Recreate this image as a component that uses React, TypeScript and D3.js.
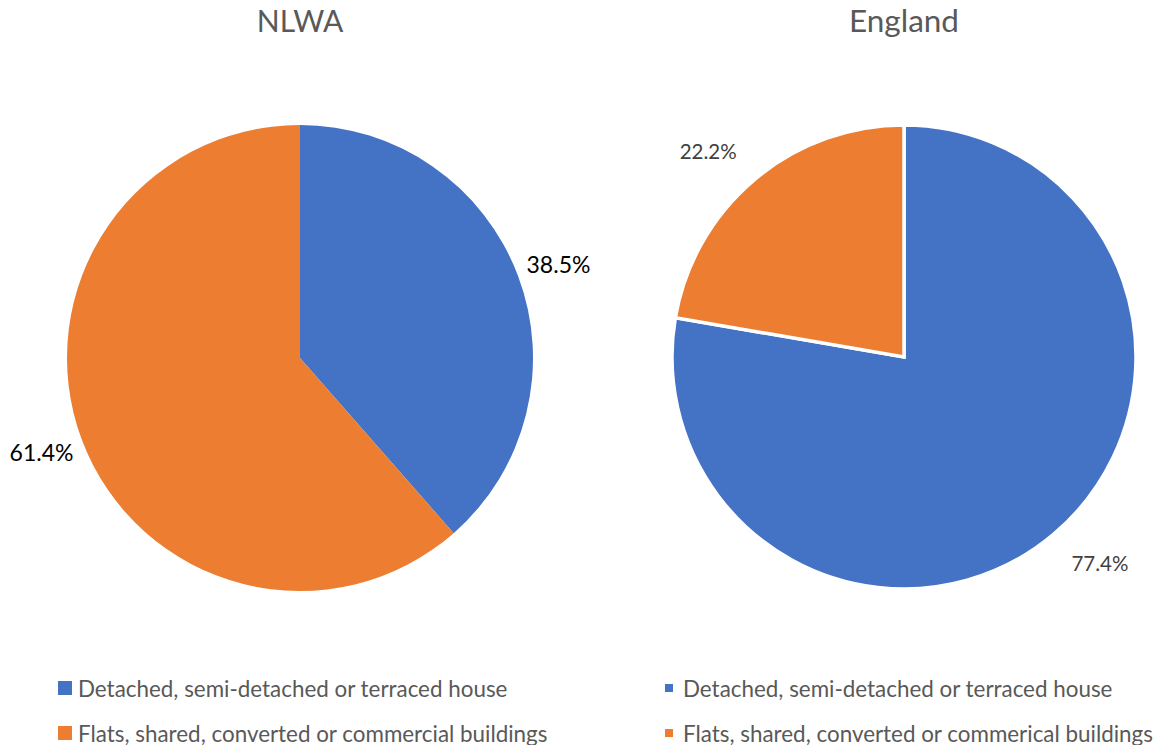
import React from "react";
import * as d3 from "d3";

const nlwaCategories = ["Detached, semi-detached or terraced house", "Flats, shared, converted or commercial buildings"];
const nlwaValues = [38.5, 61.4];
const nlwaLabels = ["38.5%", "61.4%"];

const englandCategories = ["Detached, semi-detached or terraced house", "Flats, shared, converted or commerical buildings"];
const englandValues = [77.4, 22.2];
const englandLabels = ["77.4%", "22.2%"];

const colors = ["#4472C4", "#ED7D31"];
const FONT = "Lato, 'Open Sans', sans-serif";

type PieProps = {
  title: string;
  titleSize: number;
  cats: string[];
  values: number[];
  labels: string[];
  cx: number;
  cy: number;
  r: number;
  titleX: number;
  stroke: string;
  strokeW: number;
  labelGap: number;
  labelColor: string;
  labelSize: number;
  labelW: number;
  labelH: number;
  legendX: number;
  sq: number;
};

function Pie(p: PieProps) {
  const pie = d3.pie<number>().sort(null).value((d) => d);
  const arcs = pie(p.values);
  const arc = d3.arc<d3.PieArcDatum<number>>().innerRadius(0).outerRadius(p.r);
  const legendY = [688, 733];
  return (
    <g>
      <text x={p.titleX} y={32} textAnchor="middle" fontSize={p.titleSize} fill="#595959" fontFamily={FONT}>
        {p.title}
      </text>
      <g transform={`translate(${p.cx},${p.cy})`}>
        {arcs.map((a, i) => (
          <path key={i} d={arc(a) || ""} fill={colors[i]} stroke={p.stroke} strokeWidth={p.strokeW} strokeLinejoin="miter" />
        ))}
        {arcs.map((a, i) => {
          const mid = (a.startAngle + a.endAngle) / 2;
          const R = p.r + p.labelGap;
          const s = Math.sin(mid);
          const c = Math.cos(mid);
          const x = R * s + Math.sign(s) * p.labelW / 2;
          const y = -R * c - Math.sign(c) * p.labelH / 2;
          return (
            <text key={i} x={x} y={y} textAnchor="middle" dominantBaseline="central" fontSize={p.labelSize} fill={p.labelColor} fontFamily={FONT}>
              {p.labels[i]}
            </text>
          );
        })}
      </g>
      {p.cats.map((c, i) => (
        <g key={i}>
          <rect x={p.legendX} y={legendY[i] - p.sq / 2} width={p.sq} height={p.sq} fill={colors[i]} />
          <text x={p.legendX + (p.sq > 10 ? 20 : 18)} y={legendY[i]} dominantBaseline="central" fontSize={22.4} fill="#595959" fontFamily={FONT}>
            {c}
          </text>
        </g>
      ))}
    </g>
  );
}

export default function App() {
  return (
    <svg width={1161} height={745} style={{ position: "absolute", left: 0, top: 0, background: "#fff" }}>
      <rect width={1161} height={745} fill="#fff" />
      <Pie
        title="NLWA"
        titleSize={30}
        cats={nlwaCategories}
        values={nlwaValues}
        labels={nlwaLabels}
        cx={300}
        cy={358}
        r={233}
        titleX={300}
        stroke="none"
        strokeW={0}
        labelGap={9}
        labelColor="#000"
        labelSize={23}
        labelW={64}
        labelH={18}
        legendX={58}
        sq={14}
      />
      <Pie
        title="England"
        titleSize={31.5}
        cats={englandCategories}
        values={englandValues}
        labels={englandLabels}
        cx={904}
        cy={357}
        r={232}
        titleX={904}
        stroke="#fff"
        strokeW={3.5}
        labelGap={27}
        labelColor="#404040"
        labelSize={20.5}
        labelW={58}
        labelH={16}
        legendX={665}
        sq={8}
      />
    </svg>
  );
}
